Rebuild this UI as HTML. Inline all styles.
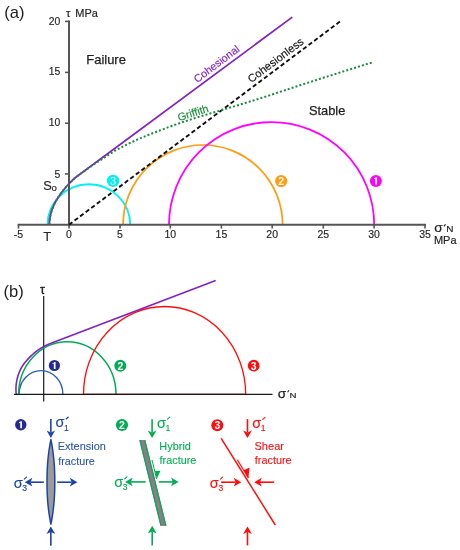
<!DOCTYPE html>
<html><head><meta charset="utf-8"><style>
html,body{margin:0;padding:0;background:#fff;width:460px;height:550px;overflow:hidden;}
svg{display:block;will-change:transform;}
text{font-family:"Liberation Sans",sans-serif;}
</style></head><body>
<svg width="460" height="550" viewBox="0 0 460 550">
<text x="4.3" y="18.1" font-size="16.6" fill="#1e1e1e">(a)</text>
<text x="65.9" y="16.9" font-size="11.4" fill="#262626" stroke="#262626" stroke-width="0.2">τ</text>
<text x="75.3" y="17.1" font-size="10.7" fill="#262626" textLength="22.6" lengthAdjust="spacingAndGlyphs" stroke="#262626" stroke-width="0.2">MPa</text>
<path d="M47.6,224.8 A41.3,40.6 0 0 1 88.9,184.2 A41.3,40.6 0 0 1 130.2,224.8" fill="none" stroke="#06eef2" stroke-width="1.9"/>
<path d="M123.1,224.8 A79.75,79.8 0 0 1 202.85,145 A79.75,79.8 0 0 1 282.6,224.8" fill="none" stroke="#ff9c10" stroke-width="1.7"/>
<path d="M169,224.8 A102.6,102.7 0 0 1 271.6,122.1 A102.6,102.7 0 0 1 374.2,224.8" fill="none" stroke="#ff00ff" stroke-width="1.8"/>
<line x1="69" y1="20.6" x2="69" y2="225.8" stroke="#555555" stroke-width="2"/>
<line x1="17.6" y1="224.8" x2="426" y2="224.8" stroke="#555555" stroke-width="2"/>
<line x1="65" y1="21.4" x2="69" y2="21.4" stroke="#555555" stroke-width="1.6"/>
<line x1="65" y1="72.4" x2="69" y2="72.4" stroke="#555555" stroke-width="1.6"/>
<line x1="65" y1="123.2" x2="69" y2="123.2" stroke="#555555" stroke-width="1.6"/>
<line x1="65" y1="173.9" x2="69" y2="173.9" stroke="#555555" stroke-width="1.6"/>
<line x1="18.5" y1="224.8" x2="18.5" y2="228.6" stroke="#555555" stroke-width="1.6"/>
<text x="18.5" y="238" font-size="10.5" fill="#262626" text-anchor="middle" stroke="#262626" stroke-width="0.15">-5</text>
<line x1="69" y1="224.8" x2="69" y2="228.6" stroke="#555555" stroke-width="1.6"/>
<text x="69" y="238" font-size="10.5" fill="#262626" text-anchor="middle" stroke="#262626" stroke-width="0.15">0</text>
<line x1="120" y1="224.8" x2="120" y2="228.6" stroke="#555555" stroke-width="1.6"/>
<text x="120" y="238" font-size="10.5" fill="#262626" text-anchor="middle" stroke="#262626" stroke-width="0.15">5</text>
<line x1="170.3" y1="224.8" x2="170.3" y2="228.6" stroke="#555555" stroke-width="1.6"/>
<text x="170.3" y="238" font-size="10.5" fill="#262626" text-anchor="middle" stroke="#262626" stroke-width="0.15">10</text>
<line x1="221.4" y1="224.8" x2="221.4" y2="228.6" stroke="#555555" stroke-width="1.6"/>
<text x="221.4" y="238" font-size="10.5" fill="#262626" text-anchor="middle" stroke="#262626" stroke-width="0.15">15</text>
<line x1="272.2" y1="224.8" x2="272.2" y2="228.6" stroke="#555555" stroke-width="1.6"/>
<text x="272.2" y="238" font-size="10.5" fill="#262626" text-anchor="middle" stroke="#262626" stroke-width="0.15">20</text>
<line x1="323.3" y1="224.8" x2="323.3" y2="228.6" stroke="#555555" stroke-width="1.6"/>
<text x="323.3" y="238" font-size="10.5" fill="#262626" text-anchor="middle" stroke="#262626" stroke-width="0.15">25</text>
<line x1="374.1" y1="224.8" x2="374.1" y2="228.6" stroke="#555555" stroke-width="1.6"/>
<text x="374.1" y="238" font-size="10.5" fill="#262626" text-anchor="middle" stroke="#262626" stroke-width="0.15">30</text>
<line x1="425" y1="224.8" x2="425" y2="228.6" stroke="#555555" stroke-width="1.6"/>
<text x="425" y="238" font-size="10.5" fill="#262626" text-anchor="middle" stroke="#262626" stroke-width="0.15">35</text>
<text x="60.4" y="24.6" font-size="10.4" fill="#262626" text-anchor="end" stroke="#262626" stroke-width="0.15">20</text>
<text x="60.4" y="75.4" font-size="10.4" fill="#262626" text-anchor="end" stroke="#262626" stroke-width="0.15">15</text>
<text x="60.4" y="126.4" font-size="10.4" fill="#262626" text-anchor="end" stroke="#262626" stroke-width="0.15">10</text>
<text x="60.4" y="177.5" font-size="10.4" fill="#262626" text-anchor="end" stroke="#262626" stroke-width="0.15">5</text>
<text x="47.2" y="241.3" font-size="13" fill="#262626" text-anchor="middle" stroke="#262626" stroke-width="0.15">T</text>
<text x="43.2" y="190.4" font-size="12.8" fill="#262626" stroke="#262626" stroke-width="0.15">S</text>
<text x="51.4" y="190.5" font-size="9.6" fill="#262626" stroke="#262626" stroke-width="0.15">o</text>
<text x="434.3" y="232.3" font-size="13.6" fill="#1e1e1e" stroke="#1e1e1e" stroke-width="0.2">σ</text>
<path d="M443.9,226.3 L445.5,224.3" stroke="#1e1e1e" stroke-width="1.1"/>
<text x="446.3" y="231.9" font-size="8.2" fill="#1e1e1e" textLength="7.2" lengthAdjust="spacingAndGlyphs" stroke="#1e1e1e" stroke-width="0.15">N</text>
<text x="433.9" y="244.1" font-size="10.8" fill="#262626" textLength="22.6" lengthAdjust="spacingAndGlyphs" stroke="#262626" stroke-width="0.2">MPa</text>
<text x="86.3" y="64.3" font-size="12.6" fill="#1e1e1e" textLength="39.6" lengthAdjust="spacingAndGlyphs" stroke="#1e1e1e" stroke-width="0.25">Failure</text>
<text x="308.9" y="114.7" font-size="12.6" fill="#1e1e1e" textLength="36.4" lengthAdjust="spacingAndGlyphs" stroke="#1e1e1e" stroke-width="0.25">Stable</text>
<path d="M339.9,21.6 L69,224.7" stroke="#111" stroke-width="1.9" stroke-dasharray="4.3 2.665" fill="none"/>
<path d="M49.4,224.8 L49.42,223.59 L49.47,222.39 L49.55,221.18 L49.67,219.98 L49.82,218.77 L50.01,217.57 L50.23,216.36 L50.48,215.16 L50.77,213.95 L51.09,212.75 L51.45,211.54 L51.84,210.34 L52.26,209.13 L52.72,207.93 L53.21,206.72 L53.73,205.52 L54.29,204.31 L54.88,203.11 L55.51,201.9 L56.17,200.7 L56.86,199.49 L57.59,198.29 L58.35,197.08 L59.15,195.88 L59.98,194.67 L60.84,193.47 L61.74,192.26 L62.67,191.06 L63.64,189.85 L64.63,188.65 L65.67,187.44 L66.73,186.24 L67.83,185.03 L68.97,183.83 L70.14,182.62 L71.34,181.42 L72.57,180.21 L73.84,179.01 L75.15,177.8 L292.3,17.11" fill="none" stroke="#8222c0" stroke-width="1.75"/>
<path d="M49.4,224.8 L49.42,223.59 L49.47,222.39 L49.55,221.18 L49.67,219.98 L49.82,218.77 L50.01,217.57 L50.23,216.36 L50.48,215.16 L50.77,213.95 L51.09,212.75 L51.45,211.54 L51.84,210.34 L52.26,209.13 L52.72,207.93 L53.21,206.72 L53.73,205.52 L54.29,204.31 L54.88,203.11 L55.51,201.9 L56.17,200.7 L56.86,199.49 L57.59,198.29 L58.35,197.08 L59.15,195.88 L59.98,194.67 L60.84,193.47 L61.74,192.26 L62.67,191.06 L63.64,189.85 L64.63,188.65 L65.67,187.44 L66.73,186.24 L67.83,185.03 L68.97,183.83 L70.14,182.62 L71.34,181.42 L72.57,180.21 L73.84,179.01 L75.15,177.8 L75.65,177.39 L79.4,174.59 L83.15,171.98 L86.9,169.28 L90.65,166.61 L94.4,164.01 L98.15,161.54 L101.91,159.17 L105.66,156.78 L109.41,154.3 L113.16,151.89 L116.91,149.71 L120.66,147.71 L124.41,145.77 L128.16,143.86 L131.92,142.03 L135.67,140.31 L139.42,138.65 L143.17,137.05 L146.92,135.49 L150.67,133.97 L154.42,132.51 L158.17,131.09 L161.93,129.67 L165.68,128.25 L169.43,126.83 L173.18,125.44 L176.93,124.08 L180.68,122.76 L184.43,121.49 L188.19,120.25 L191.94,119.03 L195.69,117.84 L199.44,116.67 L203.19,115.53 L206.94,114.42 L210.69,113.32 L214.44,112.23 L218.2,111.14 L221.95,110.02 L225.7,108.9 L229.45,107.77 L233.2,106.64 L236.95,105.51 L240.7,104.37 L244.46,103.22 L248.21,102.06 L251.96,100.89 L255.71,99.71 L259.46,98.51 L263.21,97.31 L266.96,96.11 L270.71,94.9 L274.47,93.68 L278.22,92.47 L281.97,91.25 L285.72,90.02 L289.47,88.78 L293.22,87.55 L296.97,86.31 L300.72,85.07 L304.48,83.84 L308.23,82.62 L311.98,81.4 L315.73,80.2 L319.48,79 L323.23,77.8 L326.98,76.61 L330.74,75.43 L334.49,74.24 L338.24,73.06 L341.99,71.88 L345.74,70.7 L349.49,69.52 L353.24,68.35 L356.99,67.17 L360.75,66 L364.5,64.83 L368.25,63.66 L372,62.5" fill="none" stroke="#1a8c3a" stroke-width="2" stroke-dasharray="2 2.1"/>
<text x="0" y="0" font-size="10.8" fill="#8222c0" stroke="#8222c0" stroke-width="0.15" transform="translate(197.3,83.2) rotate(-37.2)">Cohesional</text>
<text x="0" y="0" font-size="11.1" fill="#111" stroke="#111" stroke-width="0.15" transform="translate(251.3,83.2) rotate(-37)">Cohesionless</text>
<text x="0" y="0" font-size="10.9" fill="#1a8c3a" stroke="#1a8c3a" stroke-width="0.15" transform="translate(179,121.2) rotate(-17.5)">Griffith</text>
<circle cx="113.1" cy="180.9" r="6.2" fill="#06eef2"/><text x="113.1" y="184.6" font-size="10.4" fill="#fff" text-anchor="middle" font-weight="normal">3</text>
<circle cx="281.2" cy="181.1" r="6.1" fill="#ff9c10"/><text x="281.2" y="184.9" font-size="10.4" fill="#fff" text-anchor="middle" font-weight="bold">2</text>
<circle cx="375.9" cy="181.1" r="6.0" fill="#ff00ff"/><path d="M375.35,177.35 L377.05,177.35 L377.05,184.85 L375.35,184.85 Z M375.55,177.35 L374.1,178.25 L374.1,179.35 L375.55,178.85 Z" fill="#fff"/>
<text x="3.6" y="296.8" font-size="16.6" fill="#1e1e1e">(b)</text>
<text x="40.1" y="293.6" font-size="12.4" fill="#1e1e1e" stroke="#1e1e1e" stroke-width="0.35">τ</text>
<line x1="43.7" y1="296" x2="43.7" y2="401.6" stroke="#1a1a1a" stroke-width="1.2"/>
<path d="M19.1,394.4 A21.9,23.8 0 0 1 41,370.6 A21.9,23.8 0 0 1 62.9,394.4" fill="none" stroke="#2f5fb8" stroke-width="1.4"/>
<path d="M18.6,394.4 A48.7,52.7 0 0 1 67.3,341.7 A48.7,52.7 0 0 1 116,394.4" fill="none" stroke="#00ad52" stroke-width="1.5"/>
<path d="M83.5,394.4 A81.1,87.9 0 0 1 164.6,306.5 A81.1,87.9 0 0 1 245.7,394.4" fill="none" stroke="#ff0d0d" stroke-width="1.3"/>
<path d="M16.3,394.4 L16.12,392.67 L16,390.94 L15.96,389.2 L15.99,387.47 L16.09,385.75 L16.25,384.03 L16.48,382.32 L16.78,380.62 L17.14,378.93 L17.57,377.26 L18.07,375.6 L18.62,373.96 L19.24,372.34 L19.92,370.75 L20.67,369.19 L21.49,367.66 L22.37,366.17 L23.32,364.73 L24.33,363.34 L25.41,361.99 L26.53,360.67 L27.69,359.39 L28.88,358.13 L30.1,356.9 L31.33,355.68 L32.59,354.5 L33.87,353.34 L35.19,352.23 L36.54,351.16 L37.93,350.14 L39.36,349.17 L40.82,348.25 L42.31,347.37 L43.83,346.53 L45.37,345.74 L46.93,345 L48.5,344.29 L50.1,343.63 L51.7,343 L215.7,280.4" fill="none" stroke="#8222c0" stroke-width="1.6"/>
<line x1="13.9" y1="394.4" x2="272.5" y2="394.4" stroke="#1a1a1a" stroke-width="1.2"/>
<line x1="83.5" y1="394.4" x2="245.7" y2="394.4" stroke="#3a0808" stroke-width="1.2"/>
<text x="277.8" y="398.3" font-size="13.6" fill="#1e1e1e" stroke="#1e1e1e" stroke-width="0.25">σ</text>
<path d="M287.6,392.2 L288.9,390.3" stroke="#1e1e1e" stroke-width="1.1"/>
<text x="289.5" y="397.9" font-size="8.0" fill="#1e1e1e" textLength="7.0" lengthAdjust="spacingAndGlyphs" stroke="#1e1e1e" stroke-width="0.15">N</text>
<circle cx="54.4" cy="365.5" r="5.6" fill="#262a96"/><path d="M53.85,362 L55.55,362 L55.55,369 L53.85,369 Z M54.05,362 L52.6,362.9 L52.6,364 L54.05,363.5 Z" fill="#fff"/>
<circle cx="120.3" cy="365.8" r="6.0" fill="#00ad52"/><text x="120.3" y="369.6" font-size="10.5" fill="#fff" text-anchor="middle" font-weight="bold">2</text>
<circle cx="253.7" cy="365.7" r="5.9" fill="#ff0d0d"/><text x="253.7" y="369.5" font-size="10.4" fill="#fff" text-anchor="middle" font-weight="bold">3</text>
<circle cx="20.8" cy="424.8" r="5.7" fill="#262a96"/><path d="M20.25,421.24 L21.95,421.24 L21.95,428.36 L20.25,428.36 Z M20.45,421.24 L19,422.14 L19,423.24 L20.45,422.74 Z" fill="#fff"/>
<line x1="50.85" y1="418.9" x2="50.85" y2="432.4" stroke="#1c44a8" stroke-width="1.6"/><path d="M50.85,438.1 L46.65,430.5 L50.85,432.4 L55.05,430.5 Z" fill="#1c44a8"/>
<text x="55.5" y="427.4" font-size="14.5" fill="#1c44a8" stroke="#1c44a8" stroke-width="0.12">σ</text><text x="64.1" y="430.5" font-size="8.6" fill="#1c44a8" stroke="#1c44a8" stroke-width="0.15">1</text><path d="M66.1,419 L68.3,417" stroke="#1c44a8" stroke-width="1.1" stroke-linecap="round"/>
<text x="57.8" y="450.1" font-size="10.8" fill="#2a53ad" textLength="48.0" lengthAdjust="spacingAndGlyphs" stroke="#2a53ad" stroke-width="0.1">Extension</text>
<text x="58.2" y="464.5" font-size="10.8" fill="#2a53ad" textLength="36.6" lengthAdjust="spacingAndGlyphs" stroke="#2a53ad" stroke-width="0.1">fracture</text>
<path d="M50.9,439.6 L51.11,440.66 L51.32,441.71 L51.51,442.77 L51.71,443.83 L51.89,444.89 L52.07,445.94 L52.25,447 L52.41,448.06 L52.57,449.12 L52.73,450.17 L52.88,451.23 L53.02,452.29 L53.16,453.35 L53.29,454.4 L53.41,455.46 L53.53,456.52 L53.65,457.58 L53.75,458.63 L53.86,459.69 L53.95,460.75 L54.04,461.81 L54.13,462.87 L54.21,463.92 L54.28,464.98 L54.35,466.04 L54.41,467.09 L54.47,468.15 L54.52,469.21 L54.57,470.27 L54.62,471.32 L54.65,472.38 L54.69,473.44 L54.72,474.5 L54.74,475.56 L54.76,476.61 L54.78,477.67 L54.79,478.73 L54.79,479.78 L54.8,480.84 L54.8,481.9 L54.8,482.96 L54.79,484.01 L54.79,485.07 L54.78,486.13 L54.76,487.19 L54.74,488.25 L54.72,489.3 L54.69,490.36 L54.65,491.42 L54.62,492.47 L54.57,493.53 L54.52,494.59 L54.47,495.65 L54.41,496.7 L54.35,497.76 L54.28,498.82 L54.21,499.88 L54.13,500.94 L54.04,501.99 L53.95,503.05 L53.86,504.11 L53.75,505.16 L53.65,506.22 L53.53,507.28 L53.41,508.34 L53.29,509.39 L53.16,510.45 L53.02,511.51 L52.88,512.57 L52.73,513.62 L52.57,514.68 L52.41,515.74 L52.25,516.8 L52.07,517.86 L51.89,518.91 L51.71,519.97 L51.51,521.03 L51.32,522.09 L51.11,523.14 L50.9,524.2 L50.9,524.2 L50.69,523.14 L50.48,522.08 L50.29,521.03 L50.09,519.97 L49.91,518.91 L49.73,517.86 L49.55,516.8 L49.39,515.74 L49.23,514.68 L49.07,513.62 L48.92,512.57 L48.78,511.51 L48.64,510.45 L48.51,509.39 L48.39,508.34 L48.27,507.28 L48.15,506.22 L48.05,505.16 L47.94,504.11 L47.85,503.05 L47.76,501.99 L47.67,500.93 L47.59,499.88 L47.52,498.82 L47.45,497.76 L47.39,496.7 L47.33,495.65 L47.28,494.59 L47.23,493.53 L47.18,492.47 L47.15,491.42 L47.11,490.36 L47.08,489.3 L47.06,488.24 L47.04,487.19 L47.02,486.13 L47.01,485.07 L47.01,484.01 L47,482.96 L47,481.9 L47,480.84 L47.01,479.78 L47.01,478.73 L47.02,477.67 L47.04,476.61 L47.06,475.55 L47.08,474.5 L47.11,473.44 L47.15,472.38 L47.18,471.32 L47.23,470.27 L47.28,469.21 L47.33,468.15 L47.39,467.09 L47.45,466.04 L47.52,464.98 L47.59,463.92 L47.67,462.86 L47.76,461.81 L47.85,460.75 L47.94,459.69 L48.05,458.63 L48.15,457.58 L48.27,456.52 L48.39,455.46 L48.51,454.4 L48.64,453.35 L48.78,452.29 L48.92,451.23 L49.07,450.17 L49.23,449.12 L49.39,448.06 L49.55,447 L49.73,445.94 L49.91,444.89 L50.09,443.83 L50.29,442.77 L50.48,441.71 L50.69,440.66 L50.9,439.6 Z" fill="#9b9b9b" stroke="#1c44a8" stroke-width="1.5" stroke-linejoin="round"/>
<line x1="43.8" y1="482.2" x2="30.5" y2="482.2" stroke="#1c44a8" stroke-width="1.6"/><path d="M24.8,482.2 L32.4,477.8 L30.5,482.2 L32.4,486.6 Z" fill="#1c44a8"/>
<line x1="57.2" y1="482.2" x2="71.7" y2="482.2" stroke="#1c44a8" stroke-width="1.6"/><path d="M77.4,482.2 L69.8,486.6 L71.7,482.2 L69.8,477.8 Z" fill="#1c44a8"/>
<text x="13.7" y="487.6" font-size="14.5" fill="#1c44a8" stroke="#1c44a8" stroke-width="0.12">σ</text><text x="22.3" y="490.7" font-size="8.6" fill="#1c44a8" stroke="#1c44a8" stroke-width="0.15">3</text><path d="M24.3,479.2 L26.5,477.2" stroke="#1c44a8" stroke-width="1.1" stroke-linecap="round"/>
<line x1="50.85" y1="545.7" x2="50.85" y2="532.1" stroke="#1c44a8" stroke-width="1.6"/><path d="M50.85,526.4 L55.25,534 L50.85,532.1 L46.45,534 Z" fill="#1c44a8"/>
<circle cx="122" cy="425" r="6.1" fill="#00ad52"/><text x="122" y="428.8" font-size="10.5" fill="#fff" text-anchor="middle" font-weight="bold">2</text>
<line x1="152.1" y1="419.2" x2="152.1" y2="432.4" stroke="#00ad52" stroke-width="1.6"/><path d="M152.1,438.1 L147.7,430.5 L152.1,432.4 L156.5,430.5 Z" fill="#00ad52"/>
<text x="156.9" y="427.5" font-size="14.5" fill="#00ad52" stroke="#00ad52" stroke-width="0.12">σ</text><text x="165.5" y="430.6" font-size="8.6" fill="#00ad52" stroke="#00ad52" stroke-width="0.15">1</text><path d="M167.5,419.1 L169.7,417.1" stroke="#00ad52" stroke-width="1.1" stroke-linecap="round"/>
<text x="159.3" y="449.7" font-size="10.8" fill="#00ad52" textLength="31.6" lengthAdjust="spacingAndGlyphs" stroke="#00ad52" stroke-width="0.1">Hybrid</text>
<text x="159.6" y="464.3" font-size="10.8" fill="#00ad52" textLength="36.8" lengthAdjust="spacingAndGlyphs" stroke="#00ad52" stroke-width="0.1">fracture</text>
<path d="M139.25,440.1 L145.35000000000002,440.1 L166.45000000000002,525.6 L160.35,525.6 Z" fill="#8c7d8c"/>
<line x1="139.9" y1="440.1" x2="161.0" y2="525.6" stroke="#00ad52" stroke-width="1.2"/>
<line x1="144.70000000000002" y1="440.1" x2="165.8" y2="525.6" stroke="#00ad52" stroke-width="1.2"/>
<line x1="160.35" y1="525.2" x2="166.45000000000002" y2="525.2" stroke="#666" stroke-width="0.8"/>
<path d="M152.0,460 L156.6,479" stroke="#00ad52" stroke-width="1.0" fill="none"/>
<path d="M155.0,471.0 L160.4,470.8 L156.8,479.0 Z" fill="#00ad52"/>
<line x1="145.7" y1="481.9" x2="130.8" y2="481.9" stroke="#00ad52" stroke-width="1.6"/><path d="M125.1,481.9 L132.7,477.5 L130.8,481.9 L132.7,486.3 Z" fill="#00ad52"/>
<line x1="158.9" y1="481.9" x2="172.9" y2="481.9" stroke="#00ad52" stroke-width="1.6"/><path d="M178.6,481.9 L171,486.3 L172.9,481.9 L171,477.5 Z" fill="#00ad52"/>
<text x="114.2" y="487.3" font-size="14.5" fill="#00ad52" stroke="#00ad52" stroke-width="0.12">σ</text><text x="122.8" y="490.4" font-size="8.6" fill="#00ad52" stroke="#00ad52" stroke-width="0.15">3</text><path d="M124.8,478.9 L127,476.9" stroke="#00ad52" stroke-width="1.1" stroke-linecap="round"/>
<line x1="152.2" y1="545.5" x2="152.2" y2="531.5" stroke="#00ad52" stroke-width="1.6"/><path d="M152.2,525.8 L156.6,533.4 L152.2,531.5 L147.8,533.4 Z" fill="#00ad52"/>
<circle cx="217.3" cy="425.2" r="6.0" fill="#ff0d0d"/><text x="217.3" y="429" font-size="10.4" fill="#fff" text-anchor="middle" font-weight="bold">3</text>
<line x1="247.5" y1="419.1" x2="247.5" y2="432.4" stroke="#ff0d0d" stroke-width="1.6"/><path d="M247.5,438.1 L243.1,430.5 L247.5,432.4 L251.9,430.5 Z" fill="#ff0d0d"/>
<text x="252.2" y="427.8" font-size="14.5" fill="#ff0d0d" stroke="#ff0d0d" stroke-width="0.12">σ</text><text x="260.8" y="430.9" font-size="8.6" fill="#ff0d0d" stroke="#ff0d0d" stroke-width="0.15">1</text><path d="M262.8,419.4 L265,417.4" stroke="#ff0d0d" stroke-width="1.1" stroke-linecap="round"/>
<text x="254.4" y="449.9" font-size="10.8" fill="#ff0d0d" textLength="29.6" lengthAdjust="spacingAndGlyphs" stroke="#ff0d0d" stroke-width="0.1">Shear</text>
<text x="254.8" y="464.4" font-size="10.8" fill="#ff0d0d" textLength="36.8" lengthAdjust="spacingAndGlyphs" stroke="#ff0d0d" stroke-width="0.1">fracture</text>
<line x1="221.2" y1="438.4" x2="275.3" y2="525" stroke="#ff0d0d" stroke-width="1.5"/>
<path d="M237.3,459.8 L248.4,478" stroke="#ff0d0d" stroke-width="1.2" fill="none"/>
<path d="M243.6,470.2 L249.5,467.4 L248.4,478.6 Z" fill="#ff0d0d"/>
<line x1="221.1" y1="482.2" x2="235.6" y2="482.2" stroke="#ff0d0d" stroke-width="1.6"/><path d="M241.3,482.2 L233.7,486.6 L235.6,482.2 L233.7,477.8 Z" fill="#ff0d0d"/>
<line x1="274.2" y1="482.2" x2="259.9" y2="482.2" stroke="#ff0d0d" stroke-width="1.6"/><path d="M254.2,482.2 L261.8,477.8 L259.9,482.2 L261.8,486.6 Z" fill="#ff0d0d"/>
<text x="209.8" y="487.6" font-size="14.5" fill="#ff0d0d" stroke="#ff0d0d" stroke-width="0.12">σ</text><text x="218.4" y="490.7" font-size="8.6" fill="#ff0d0d" stroke="#ff0d0d" stroke-width="0.15">3</text><path d="M220.4,479.2 L222.6,477.2" stroke="#ff0d0d" stroke-width="1.1" stroke-linecap="round"/>
<line x1="247.5" y1="545.4" x2="247.5" y2="532.1" stroke="#ff0d0d" stroke-width="1.6"/><path d="M247.5,526.4 L251.9,534 L247.5,532.1 L243.1,534 Z" fill="#ff0d0d"/>
</svg>
</body></html>
